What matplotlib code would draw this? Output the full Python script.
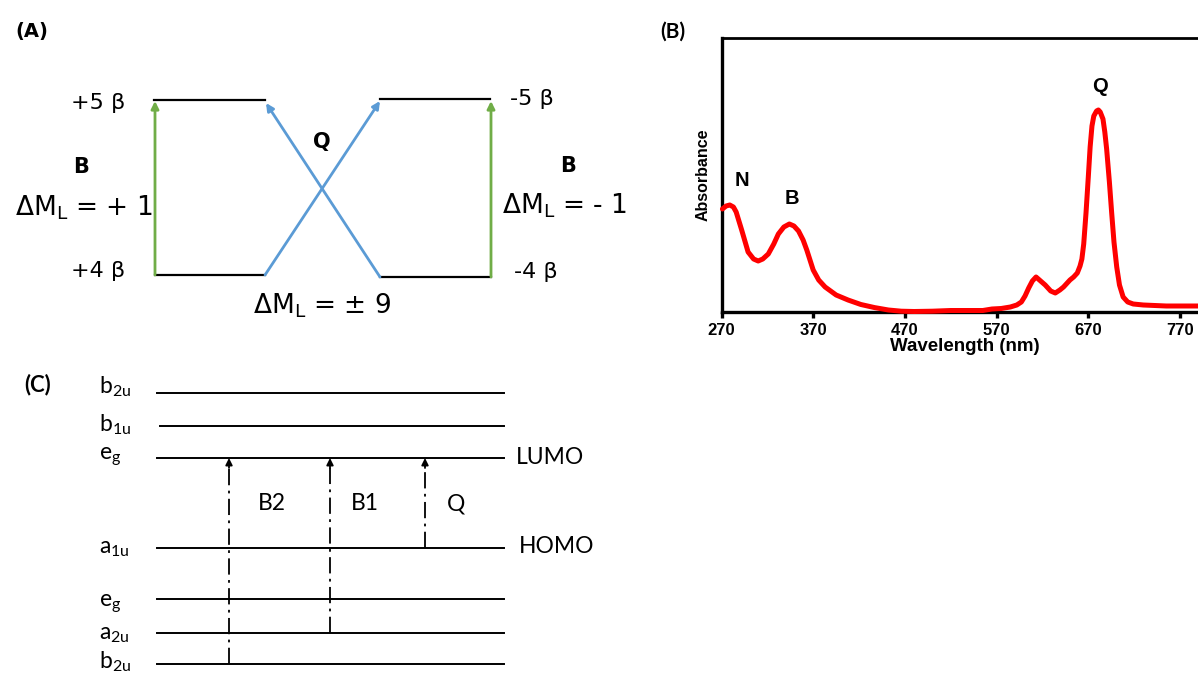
import numpy as np
import matplotlib
matplotlib.use("Agg")
from matplotlib import pyplot as plt

# ---- panel B: absorption spectrum ----
wavelength = [271, 275, 279, 283, 286, 292, 299, 305, 310, 315, 321, 327, 332,
              338, 344, 349, 354, 359, 363, 370, 376, 383, 395, 408, 422, 437,
              452, 466, 480, 500, 520, 540, 555, 565, 575, 585, 592, 597, 601,
              605, 609, 613, 618, 623, 629, 634, 639, 643, 647, 650, 654, 658,
              661, 663, 665, 667.5, 670, 672, 674, 676, 679, 681, 683, 686, 688,
              690, 693, 695.5, 698, 701, 704, 708, 713, 719, 730, 755, 790]
absorbance = [103, 106, 107, 105, 100, 82, 60, 53, 51, 53, 58, 68, 78,
              85, 88, 86, 81, 72, 62, 42, 32, 25, 17, 12, 7.5, 4.4,
              2, 0.8, 0.5, 0.8, 1.5, 1.5, 1.5, 3, 3.5, 5, 7, 10, 16,
              24, 31, 35, 31, 27, 21, 19, 22, 25, 29, 32, 35, 39,
              46, 53, 68, 99, 135, 165, 186, 196, 201, 202, 200, 193, 180,
              163, 130, 99, 70, 45, 27, 15, 10, 8, 7, 6, 6]
wl_ticks = [270, 370, 470, 570, 670, 770]
band_names = ["N", "B", "Q"]
band_wl = [292, 347, 683]
band_y = [131, 114, 226]

# ---- panel A: orbital angular momentum levels ----
levels_A = ["+5 β", "+4 β", "-5 β", "-4 β"]

# ---- panel C: Gouterman four-orbital levels ----
level_base = ["b", "b", "e", "a", "e", "a", "b"]
level_sub = ["2u", "1u", "g", "1u", "g", "2u", "2u"]
transitions = ["B2", "B1", "Q"]
trans_from = [6, 5, 3]   # index into levels
trans_to = [2, 2, 2]

W, H = 1198, 675
fig = plt.figure(figsize=(W / 100, H / 100), dpi=100)

# pixel-space overlay for the two diagrams
ov = fig.add_axes([0, 0, 1, 1])
ov.set_xlim(0, W)
ov.set_ylim(H, 0)
ov.axis("off")

# ----- panel A -----
fa = "DejaVu Sans"
green = "#70ad47"
blue = "#5b9bd5"
ov.text(15, 32, "(A)", fontsize=14, fontweight="bold", family=fa, va="center")
top_l, bot_l = 100, 275
top_r, bot_r = 99, 277
ov.plot([154, 265], [top_l, top_l], color="black", lw=1.6)
ov.plot([155, 265], [bot_l, bot_l], color="black", lw=1.6)
ov.plot([380, 490], [top_r, top_r], color="black", lw=1.6)
ov.plot([380, 491], [bot_r, bot_r], color="black", lw=1.6)

def arrow(x0, y0, x1, y1, c, lw=2, ms=11):
    ov.annotate("", xy=(x1, y1), xytext=(x0, y0),
                arrowprops=dict(arrowstyle="-|>", color=c, lw=lw,
                                mutation_scale=ms, shrinkA=0, shrinkB=0))

arrow(155, bot_l, 155, top_l + 1, green)
arrow(491, bot_r, 491, top_r + 2, green)
arrow(265, bot_l, 380, top_r + 2, blue)
arrow(380, bot_r, 266, top_l + 3, blue)

ov.text(125, 109, levels_A[0], fontsize=16, family=fa, ha="right")
ov.text(125, 277, levels_A[1], fontsize=16, family=fa, ha="right")
ov.text(510, 105, levels_A[2], fontsize=16, family=fa, ha="left")
ov.text(514, 278, levels_A[3], fontsize=16, family=fa, ha="left")
ov.text(322, 148, "Q", fontsize=15, fontweight="bold", family=fa, ha="center")
ov.text(81, 173, "B", fontsize=15, fontweight="bold", family=fa, ha="center")
ov.text(568, 172, "B", fontsize=15, fontweight="bold", family=fa, ha="center")
ov.text(15, 215, r"ΔM$_\mathregular{L}$ = + 1", fontsize=19, family=fa)
ov.text(502, 213, r"ΔM$_\mathregular{L}$ = - 1", fontsize=19, family=fa)
ov.text(253, 313, r"ΔM$_\mathregular{L}$ = ± 9", fontsize=19, family=fa)

# ----- panel C -----
fc = "Lato"
level_y = [393, 426, 458, 548, 599, 633, 664]
label_y = [393, 431, 460, 553, 607, 639, 668]
ov.text(38, 391, "(C)", fontsize=16, fontweight="bold", family=fc, ha="center")
for i, yl in enumerate(level_y):
    x0 = 160 if i == 1 else 157
    ov.plot([x0, 504], [yl, yl], color="black", lw=1.4)
    ov.text(99, label_y[i], level_base[i] + r"$_\mathregular{" + level_sub[i] + "}$",
            fontsize=16.5, family=fc)

trans_x = [229, 330, 425]
trans_lx = [272, 365, 456]
for k, name in enumerate(transitions):
    x = trans_x[k]
    y0 = level_y[trans_from[k]]
    y1 = level_y[trans_to[k]]
    ov.plot([x, x], [y0, y1 + 8], color="black", lw=1.3,
            linestyle=(0, (9, 3, 1.5, 3)))
    ov.annotate("", xy=(x, y1), xytext=(x, y1 + 10),
                arrowprops=dict(arrowstyle="-|>", color="black", lw=1.3,
                                mutation_scale=10, shrinkA=0, shrinkB=0))
    ov.text(trans_lx[k], 510, name, fontsize=16.5, family=fc, ha="center")

ov.text(516, 464, "LUMO", fontsize=16.5, family=fc)
ov.text(519, 553, "HOMO", fontsize=16.5, family=fc)

# ----- panel B -----
fb = "Liberation Sans"
ov.text(673, 32, "(B)", fontsize=15, fontweight="bold", family=fc, ha="center",
        va="center")
x_lo, x_hi = 270, 800
px_per_nm = 0.917
left, top, bottom = 721.5, 38, 312
ax = fig.add_axes([left / W, (H - bottom) / H,
                   (x_hi - x_lo) * px_per_nm / W, (bottom - top) / H])
ax.set_facecolor("none")
ax.plot(wavelength, absorbance, color="#ff0000", lw=3.6,
        solid_joinstyle="round", solid_capstyle="round", zorder=3, clip_on=False)
ax.set_xlim(x_lo, x_hi)
ax.set_ylim(0, bottom - top)
ax.set_xticks(wl_ticks)
ax.set_xticklabels([str(t) for t in wl_ticks], fontsize=12, fontweight="bold",
                   family=fb)
ax.set_yticks([])
ax.tick_params(axis="x", direction="out", length=4, width=2.4, pad=4)
ax.spines["left"].set_linewidth(2.4)
ax.spines["bottom"].set_linewidth(2.4)
ax.spines["top"].set_linewidth(2)
ax.spines["right"].set_visible(False)
ax.set_xlabel("Wavelength (nm)", fontsize=13.5, fontweight="bold", family=fb,
              labelpad=0)
ax.set_ylabel("Absorbance", fontsize=11.5, fontweight="bold", family=fb,
              labelpad=8)
for name, w, yv in zip(band_names, band_wl, band_y):
    ax.text(w, yv, name, fontsize=14.5, fontweight="bold", family=fb,
            ha="center", va="center")

fig.savefig("out.png", dpi=100)
